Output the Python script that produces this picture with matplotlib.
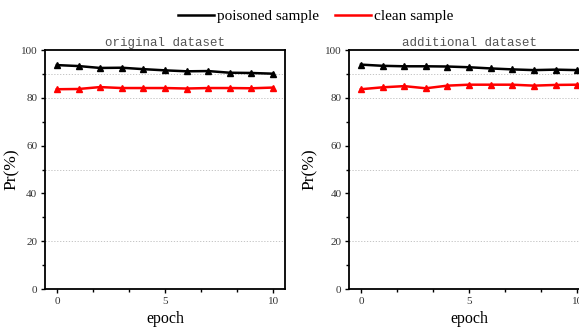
import numpy as np
import matplotlib
matplotlib.use('Agg')
import matplotlib.pyplot as plt
from matplotlib.ticker import MultipleLocator

# datos
epochs = np.arange(0, 11)
orig_poisoned = [93.7, 93.3, 92.5, 92.6, 92.0, 91.5, 91.1, 91.2, 90.5, 90.4, 90.1]
orig_clean = [83.6, 83.7, 84.5, 84.1, 84.1, 84.1, 83.9, 84.1, 84.1, 84.0, 84.3]
add_poisoned = [93.9, 93.4, 93.2, 93.2, 93.1, 92.8, 92.3, 91.9, 91.6, 91.8, 91.6]
add_clean = [83.6, 84.4, 84.9, 84.0, 85.1, 85.5, 85.5, 85.5, 85.1, 85.4, 85.5]

titles = ['original dataset', 'additional dataset']
series = [(orig_poisoned, orig_clean), (add_poisoned, add_clean)]
grid_levels = [20, 50, 80, 90]
serif = 'Liberation Serif'

fig = plt.figure(figsize=(5.79, 3.27), dpi=100)
lefts = [0.0777, 0.6028]
ylabel_x = [-0.105, -0.13]

for left, lx, title, (poisoned, clean) in zip(lefts, ylabel_x, titles, series):
    ax = fig.add_axes([left, 0.116, 0.4145, 0.731])
    for g in grid_levels:
        ax.axhline(g, color='#bbbbbb', linestyle=(0, (1.5, 2)), linewidth=0.6, zorder=0)
    ax.plot(epochs, poisoned, color='black', marker='^', markersize=5, linewidth=1.8,
            label='poisoned sample')
    ax.plot(epochs, clean, color='red', marker='^', markersize=5, linewidth=1.8,
            label='clean sample')
    ax.set_xlim(-0.55, 10.55)
    ax.set_ylim(0, 100)
    ax.xaxis.set_major_locator(MultipleLocator(5))
    ax.xaxis.set_minor_locator(MultipleLocator(5 / 3))
    ax.yaxis.set_major_locator(MultipleLocator(20))
    ax.yaxis.set_minor_locator(MultipleLocator(10))
    ax.tick_params(which='both', direction='out', labelsize=8, labelcolor='#333333',
                   width=1, color='black', pad=2.5)
    ax.tick_params(which='major', length=3)
    ax.tick_params(which='minor', length=2)
    for lab in ax.get_xticklabels() + ax.get_yticklabels():
        lab.set_family(serif)
    for sp in ax.spines.values():
        sp.set_linewidth(1.3)
    ax.set_title(title, family='Liberation Mono', fontsize=9, color='#555555', pad=3)
    ax.set_xlabel('epoch', family=serif, fontsize=11.5, labelpad=4)
    ax.set_ylabel('Pr(%)', family=serif, fontsize=12.5)
    ax.yaxis.set_label_coords(lx, 0.5)

handles, labels = ax.get_legend_handles_labels()
handles = [plt.Line2D([], [], color=h.get_color(), linewidth=1.8) for h in handles]
fig.legend(handles, labels, loc='center', bbox_to_anchor=(0.545, 0.95), ncol=2,
           frameon=False, prop={'family': serif, 'size': 11}, handlelength=2.4,
           handletextpad=0.2, columnspacing=1.0)

fig.savefig('out.png', dpi=100)
